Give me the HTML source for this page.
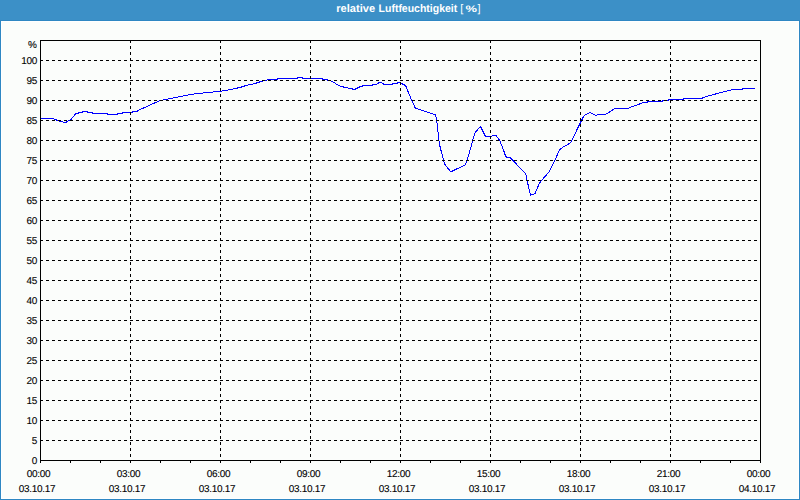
<!DOCTYPE html><html><head><meta charset="utf-8"><style>
html,body{margin:0;padding:0;width:800px;height:500px;overflow:hidden;background:#fbfdfb}
svg{display:block}
text{font-family:"Liberation Sans",sans-serif;text-rendering:geometricPrecision}
</style></head><body>
<svg width="800" height="500" viewBox="0 0 800 500">
<rect x="0" y="0" width="800" height="500" fill="#2e87c3"/>
<rect x="0" y="0" width="800" height="20" fill="#3c90c7"/>
<rect x="1" y="21" width="798" height="478" fill="#ffffff"/>
<rect x="2" y="22" width="796" height="476" fill="#fbfdfb"/>
<g fill="#ffffff" font-size="11">
<text x="336.3" y="12" font-weight="bold" textLength="38.8" lengthAdjust="spacingAndGlyphs">relative</text>
<text x="378.6" y="12" font-weight="bold" textLength="78.6" lengthAdjust="spacingAndGlyphs">Luftfeuchtigkeit</text>
<text x="460.3" y="12">[</text>
<text x="465.5" y="12" font-size="9.5" font-weight="bold" textLength="11.5" lengthAdjust="spacingAndGlyphs">%</text>
<text x="477.4" y="12">]</text>
</g>
<polyline points="40,118.5 52.5,118.5 55,119.5 58,120.5 61,121.5 64.5,122.5 66,122.5 66.5,121.5 67.8,121.5 68.2,120.5 70.3,120.5 75,114.5 75.5,113.5 78.5,113.5 79,112.5 82.5,112.5 83,111.5 87.5,111.5 88,112.5 92.5,112.5 93,113.5 107.5,113.5 108,114.5 117.5,114.5 118,113.5 122.5,113.5 123,112.5 132,112.5 132.5,111.5 137.5,111.5 138,110.5 160,100.5 165.5,99.5 190.5,94.5 198,93.5 218,91.5 225.5,90.5 240,87.5 246,85.5 255,83.5 258,82.5 261,81.5 265.5,80.5 268,79.5 277.5,79.5 278,78.5 297.5,78.5 298,77.5 302.5,77.5 303,78.5 322.5,78.5 323,79.5 327.5,79.5 328,80.5 330.5,80.5 332,81.5 334,82.5 336,84 339,85.5 341.5,86.5 345.5,87.5 350.5,88.5 352.5,88.5 353,89.5 355.5,89.5 356,88.5 357.5,88.5 358,87.5 359.5,87.5 360,86.5 362.5,86.5 363,85.5 372.5,85.5 373,84.5 376.5,84.5 379,82.5 381.5,82.5 384,84.5 392.5,84.5 393,83.5 397.5,83.5 398,82.5 400,82.5 400.5,83.5 402.5,83.5 403,84.5 404.5,84.5 405,85.5 406,86.5 411.5,100 415.5,108.5 418,109 433,114 435.5,114.5 436.5,119 439,141 440,146.5 444,162 445,164.5 450.5,171.5 452,171.2 465,165 466.5,162.5 469,154 474.5,134 476,131.5 480.5,126.5 485.5,136.5 490,136.5 492.5,136 494,135.5 496,135.5 500,141 504,151.5 505.5,156 506.5,157 510,157.5 525.5,173.5 526.5,177 527,180 530.5,195.5 531.5,194.5 533,194.5 535,193.5 539.5,183 545,176.5 549.5,171.5 555,160 559.5,150 563,147 568,144.4 570.5,142.8 583,117.5 585,115 590,112.5 596,115.5 598,114.5 605.5,114.5 615,108.5 627.5,108.5 630,107.5 641,103.5 642.5,102.5 647.5,102.5 648,101.5 662.5,101.5 663,100.5 668,100.5 668.5,99.5 683,99.5 683.5,98.5 702.5,98.5 703,97.5 721,92.5 733,89.5 742.5,89.5 743,88.5 755,88.5" fill="none" stroke="#0000ff" stroke-width="1" shape-rendering="crispEdges"/>
<g shape-rendering="crispEdges" stroke="#000" stroke-width="1" fill="none">
<line x1="40" y1="440.5" x2="760" y2="440.5" stroke-dasharray="3 3"/>
<line x1="40" y1="420.5" x2="760" y2="420.5" stroke-dasharray="3 3"/>
<line x1="40" y1="400.5" x2="760" y2="400.5" stroke-dasharray="3 3"/>
<line x1="40" y1="380.5" x2="760" y2="380.5" stroke-dasharray="3 3"/>
<line x1="40" y1="360.5" x2="760" y2="360.5" stroke-dasharray="3 3"/>
<line x1="40" y1="340.5" x2="760" y2="340.5" stroke-dasharray="3 3"/>
<line x1="40" y1="320.5" x2="760" y2="320.5" stroke-dasharray="3 3"/>
<line x1="40" y1="300.5" x2="760" y2="300.5" stroke-dasharray="3 3"/>
<line x1="40" y1="280.5" x2="760" y2="280.5" stroke-dasharray="3 3"/>
<line x1="40" y1="260.5" x2="760" y2="260.5" stroke-dasharray="3 3"/>
<line x1="40" y1="240.5" x2="760" y2="240.5" stroke-dasharray="3 3"/>
<line x1="40" y1="220.5" x2="760" y2="220.5" stroke-dasharray="3 3"/>
<line x1="40" y1="200.5" x2="760" y2="200.5" stroke-dasharray="3 3"/>
<line x1="40" y1="180.5" x2="760" y2="180.5" stroke-dasharray="3 3"/>
<line x1="40" y1="160.5" x2="760" y2="160.5" stroke-dasharray="3 3"/>
<line x1="40" y1="140.5" x2="760" y2="140.5" stroke-dasharray="3 3"/>
<line x1="40" y1="120.5" x2="760" y2="120.5" stroke-dasharray="3 3"/>
<line x1="40" y1="100.5" x2="760" y2="100.5" stroke-dasharray="3 3"/>
<line x1="40" y1="80.5" x2="760" y2="80.5" stroke-dasharray="3 3"/>
<line x1="40" y1="60.5" x2="760" y2="60.5" stroke-dasharray="3 3"/>
<line x1="130.5" y1="40" x2="130.5" y2="460" stroke-dasharray="3 3"/>
<line x1="220.5" y1="40" x2="220.5" y2="460" stroke-dasharray="3 3"/>
<line x1="310.5" y1="40" x2="310.5" y2="460" stroke-dasharray="3 3"/>
<line x1="400.5" y1="40" x2="400.5" y2="460" stroke-dasharray="3 3"/>
<line x1="490.5" y1="40" x2="490.5" y2="460" stroke-dasharray="3 3"/>
<line x1="580.5" y1="40" x2="580.5" y2="460" stroke-dasharray="3 3"/>
<line x1="670.5" y1="40" x2="670.5" y2="460" stroke-dasharray="3 3"/>
<path d="M40.5 40.5H760.5M40.5 40V463M760.5 40V463M40 460.5H761"/>
<path d="M70.5 461V463"/>
<path d="M100.5 461V463"/>
<path d="M130.5 461V463"/>
<path d="M160.5 461V463"/>
<path d="M190.5 461V463"/>
<path d="M220.5 461V463"/>
<path d="M250.5 461V463"/>
<path d="M280.5 461V463"/>
<path d="M310.5 461V463"/>
<path d="M340.5 461V463"/>
<path d="M370.5 461V463"/>
<path d="M400.5 461V463"/>
<path d="M430.5 461V463"/>
<path d="M460.5 461V463"/>
<path d="M490.5 461V463"/>
<path d="M520.5 461V463"/>
<path d="M550.5 461V463"/>
<path d="M580.5 461V463"/>
<path d="M610.5 461V463"/>
<path d="M640.5 461V463"/>
<path d="M670.5 461V463"/>
<path d="M700.5 461V463"/>
<path d="M730.5 461V463"/>
</g>
<g font-size="10" fill="#000" letter-spacing="-0.3" stroke="#000" stroke-width="0.1">
<text x="36.7" y="48" text-anchor="end">%</text>
<text x="37" y="464" text-anchor="end">0</text>
<text x="37" y="444" text-anchor="end">5</text>
<text x="37" y="424" text-anchor="end">10</text>
<text x="37" y="404" text-anchor="end">15</text>
<text x="37" y="384" text-anchor="end">20</text>
<text x="37" y="364" text-anchor="end">25</text>
<text x="37" y="344" text-anchor="end">30</text>
<text x="37" y="324" text-anchor="end">35</text>
<text x="37" y="304" text-anchor="end">40</text>
<text x="37" y="284" text-anchor="end">45</text>
<text x="37" y="264" text-anchor="end">50</text>
<text x="37" y="244" text-anchor="end">55</text>
<text x="37" y="224" text-anchor="end">60</text>
<text x="37" y="204" text-anchor="end">65</text>
<text x="37" y="184" text-anchor="end">70</text>
<text x="37" y="164" text-anchor="end">75</text>
<text x="37" y="144" text-anchor="end">80</text>
<text x="37" y="124" text-anchor="end">85</text>
<text x="37" y="104" text-anchor="end">90</text>
<text x="37" y="84" text-anchor="end">95</text>
<text x="37" y="64" text-anchor="end">100</text>
<text x="38.5" y="477" text-anchor="middle">00:00</text>
<text x="37" y="492" text-anchor="middle">03.10.17</text>
<text x="128.5" y="477" text-anchor="middle">03:00</text>
<text x="127" y="492" text-anchor="middle">03.10.17</text>
<text x="218.5" y="477" text-anchor="middle">06:00</text>
<text x="217" y="492" text-anchor="middle">03.10.17</text>
<text x="308.5" y="477" text-anchor="middle">09:00</text>
<text x="307" y="492" text-anchor="middle">03.10.17</text>
<text x="398.5" y="477" text-anchor="middle">12:00</text>
<text x="397" y="492" text-anchor="middle">03.10.17</text>
<text x="488.5" y="477" text-anchor="middle">15:00</text>
<text x="487" y="492" text-anchor="middle">03.10.17</text>
<text x="578.5" y="477" text-anchor="middle">18:00</text>
<text x="577" y="492" text-anchor="middle">03.10.17</text>
<text x="668.5" y="477" text-anchor="middle">21:00</text>
<text x="667" y="492" text-anchor="middle">03.10.17</text>
<text x="758.5" y="477" text-anchor="middle">00:00</text>
<text x="757" y="492" text-anchor="middle">04.10.17</text>
</g>
</svg></body></html>
